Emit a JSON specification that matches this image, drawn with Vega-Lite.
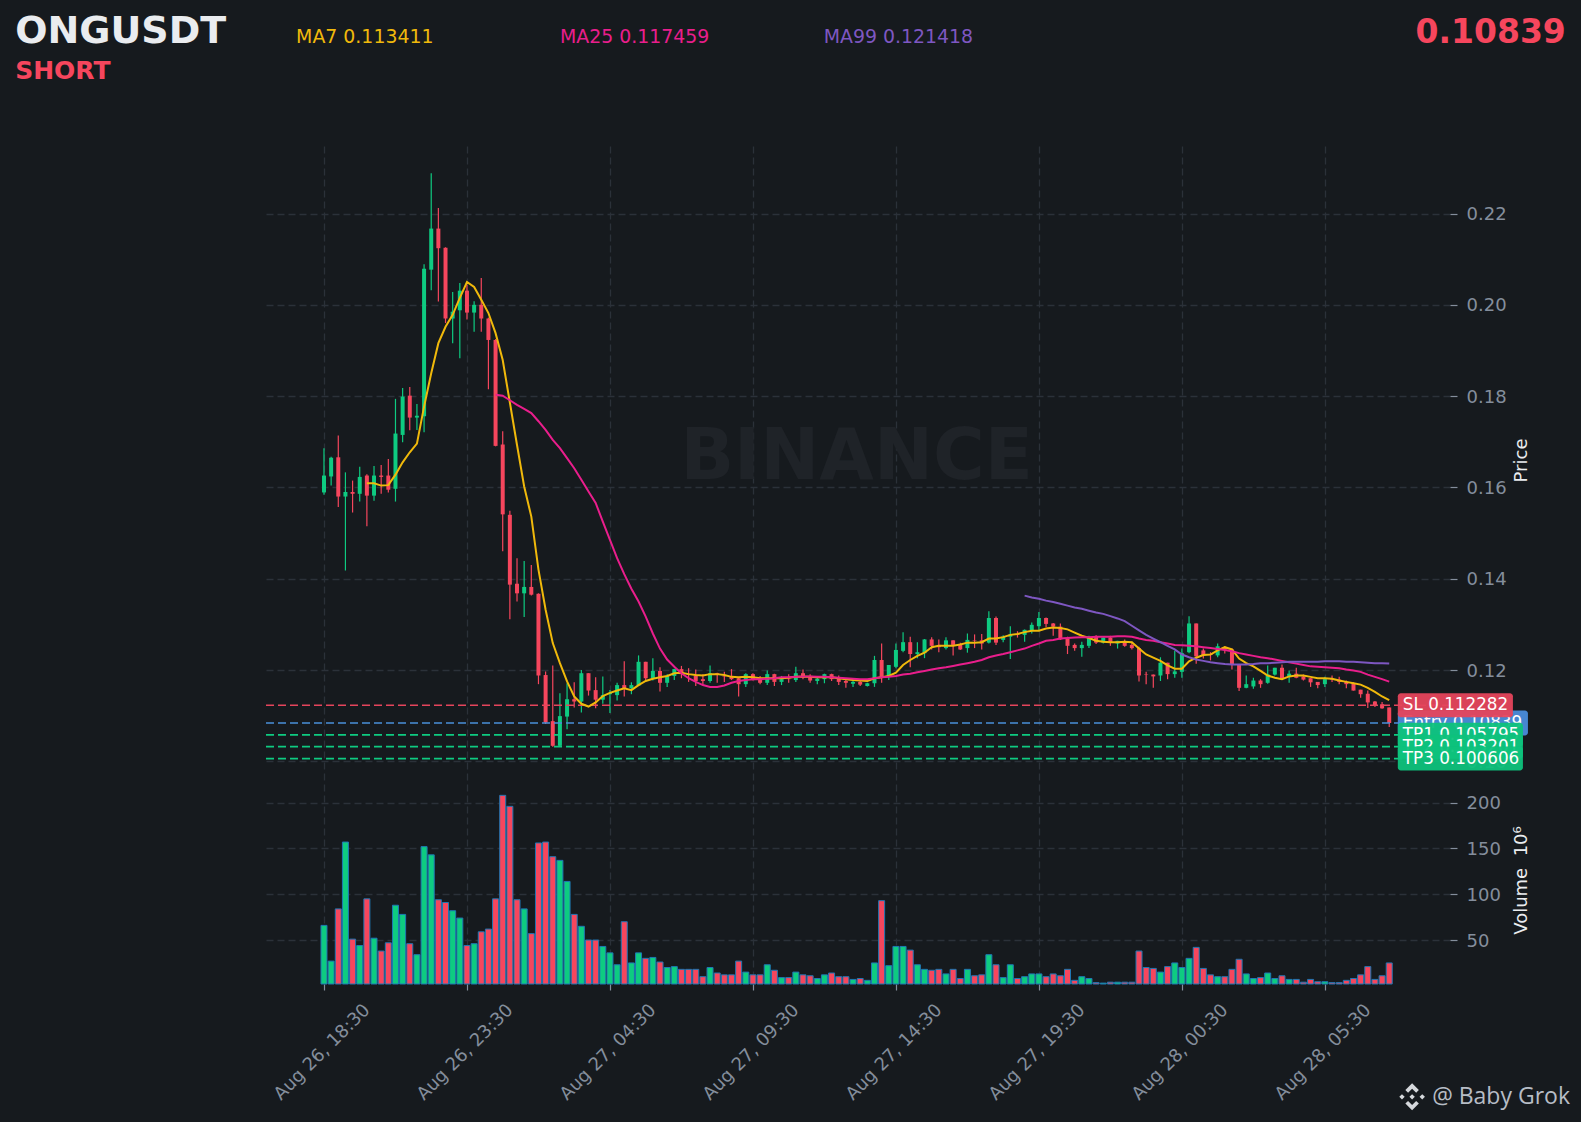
{
  "$schema": "https://vega.github.io/schema/vega-lite/v6.json",
  "description": "ONGUSDT 15 minute candles with moving averages, trade levels and volume",
  "background": "#161a1e",
  "width": 1186,
  "height": 838,
  "padding": {"left": 264, "top": 146, "right": 131, "bottom": 138},
  "autosize": {"type": "none"},
  "config": {
    "view": {"stroke": null},
    "font": "DejaVu Sans",
    "text": {"font": "DejaVu Sans"}
  },
  "datasets": {
    "candles": [
      {"i":0,"o":0.1589,"h":0.1686,"l":0.1584,"c":0.1626,"v":66},
      {"i":1,"o":0.1624,"h":0.1667,"l":0.1604,"c":0.1665,"v":27},
      {"i":2,"o":0.1666,"h":0.1714,"l":0.1557,"c":0.1580,"v":84},
      {"i":3,"o":0.1580,"h":0.1633,"l":0.1418,"c":0.1590,"v":157},
      {"i":4,"o":0.1590,"h":0.1615,"l":0.1545,"c":0.1586,"v":51},
      {"i":5,"o":0.1586,"h":0.1645,"l":0.1569,"c":0.1623,"v":44},
      {"i":6,"o":0.1626,"h":0.1629,"l":0.1515,"c":0.1582,"v":95,"ma7":0.1609},
      {"i":7,"o":0.1582,"h":0.1647,"l":0.1571,"c":0.1626,"v":52,"ma7":0.1609},
      {"i":8,"o":0.1626,"h":0.1649,"l":0.1586,"c":0.1623,"v":38,"ma7":0.1604},
      {"i":9,"o":0.1626,"h":0.1662,"l":0.1589,"c":0.1595,"v":47,"ma7":0.1605},
      {"i":10,"o":0.1597,"h":0.1794,"l":0.1569,"c":0.1718,"v":88,"ma7":0.1628},
      {"i":11,"o":0.1715,"h":0.1818,"l":0.1699,"c":0.1799,"v":78,"ma7":0.1655},
      {"i":12,"o":0.1801,"h":0.1820,"l":0.1725,"c":0.1753,"v":46,"ma7":0.1677},
      {"i":13,"o":0.1753,"h":0.1783,"l":0.1726,"c":0.1757,"v":34,"ma7":0.1696},
      {"i":14,"o":0.1756,"h":0.2089,"l":0.1721,"c":0.2079,"v":152,"ma7":0.1777},
      {"i":15,"o":0.2077,"h":0.2288,"l":0.2032,"c":0.2167,"v":143,"ma7":0.1850},
      {"i":16,"o":0.2167,"h":0.2212,"l":0.2007,"c":0.2124,"v":94,"ma7":0.1916},
      {"i":17,"o":0.2125,"h":0.2126,"l":0.1960,"c":0.1970,"v":91,"ma7":0.1952},
      {"i":18,"o":0.1970,"h":0.2028,"l":0.1916,"c":0.1985,"v":82,"ma7":0.1978},
      {"i":19,"o":0.1988,"h":0.2048,"l":0.1883,"c":0.2031,"v":74,"ma7":0.2015},
      {"i":20,"o":0.2031,"h":0.2044,"l":0.1968,"c":0.1983,"v":44,"ma7":0.2050},
      {"i":21,"o":0.1983,"h":0.2008,"l":0.1941,"c":0.2000,"v":46,"ma7":0.2039},
      {"i":22,"o":0.2000,"h":0.2059,"l":0.1941,"c":0.1970,"v":59,"ma7":0.2011},
      {"i":23,"o":0.1970,"h":0.1972,"l":0.1815,"c":0.1923,"v":62,"ma7":0.1982},
      {"i":24,"o":0.1923,"h":0.1925,"l":0.1690,"c":0.1691,"v":95,"ma7":0.1938,"ma25":0.1803},
      {"i":25,"o":0.1694,"h":0.1723,"l":0.1460,"c":0.1541,"v":208,"ma7":0.1879,"ma25":0.1801},
      {"i":26,"o":0.1540,"h":0.1549,"l":0.1311,"c":0.1387,"v":196,"ma7":0.1786,"ma25":0.1791},
      {"i":27,"o":0.1389,"h":0.1445,"l":0.1350,"c":0.1368,"v":94,"ma7":0.1693,"ma25":0.1781},
      {"i":28,"o":0.1368,"h":0.1439,"l":0.1316,"c":0.1382,"v":84,"ma7":0.1602,"ma25":0.1772},
      {"i":29,"o":0.1382,"h":0.1430,"l":0.1363,"c":0.1365,"v":57,"ma7":0.1536,"ma25":0.1763},
      {"i":30,"o":0.1367,"h":0.1368,"l":0.1169,"c":0.1188,"v":156,"ma7":0.1420,"ma25":0.1745},
      {"i":31,"o":0.1189,"h":0.1197,"l":0.1082,"c":0.1085,"v":157,"ma7":0.1332,"ma25":0.1726},
      {"i":32,"o":0.1088,"h":0.1210,"l":0.1032,"c":0.1034,"v":141,"ma7":0.1259,"ma25":0.1704},
      {"i":33,"o":0.1034,"h":0.1149,"l":0.1032,"c":0.1099,"v":137,"ma7":0.1215,"ma25":0.1686},
      {"i":34,"o":0.1098,"h":0.1171,"l":0.1070,"c":0.1136,"v":114,"ma7":0.1175,"ma25":0.1664},
      {"i":35,"o":0.1136,"h":0.1173,"l":0.1118,"c":0.1131,"v":78,"ma7":0.1142,"ma25":0.1642},
      {"i":36,"o":0.1131,"h":0.1200,"l":0.1107,"c":0.1193,"v":65,"ma7":0.1126,"ma25":0.1617},
      {"i":37,"o":0.1193,"h":0.1193,"l":0.1144,"c":0.1155,"v":50,"ma7":0.1120,"ma25":0.1591},
      {"i":38,"o":0.1156,"h":0.1184,"l":0.1116,"c":0.1135,"v":50,"ma7":0.1129,"ma25":0.1566},
      {"i":39,"o":0.1135,"h":0.1186,"l":0.1126,"c":0.1145,"v":43,"ma7":0.1143,"ma25":0.1525},
      {"i":40,"o":0.1147,"h":0.1156,"l":0.1106,"c":0.1150,"v":36,"ma7":0.1150,"ma25":0.1485},
      {"i":41,"o":0.1145,"h":0.1172,"l":0.1133,"c":0.1167,"v":23,"ma7":0.1155,"ma25":0.1445},
      {"i":42,"o":0.1167,"h":0.1219,"l":0.1142,"c":0.1160,"v":70,"ma7":0.1160,"ma25":0.1410},
      {"i":43,"o":0.1160,"h":0.1173,"l":0.1147,"c":0.1167,"v":25,"ma7":0.1156,"ma25":0.1378},
      {"i":44,"o":0.1166,"h":0.1232,"l":0.1165,"c":0.1218,"v":36,"ma7":0.1167,"ma25":0.1350},
      {"i":45,"o":0.1218,"h":0.1218,"l":0.1178,"c":0.1182,"v":30,"ma7":0.1176,"ma25":0.1317},
      {"i":46,"o":0.1182,"h":0.1226,"l":0.1177,"c":0.1198,"v":31,"ma7":0.1181,"ma25":0.1280},
      {"i":47,"o":0.1198,"h":0.1206,"l":0.1153,"c":0.1172,"v":26,"ma7":0.1184,"ma25":0.1247},
      {"i":48,"o":0.1172,"h":0.1191,"l":0.1163,"c":0.1187,"v":20,"ma7":0.1187,"ma25":0.1223},
      {"i":49,"o":0.1187,"h":0.1203,"l":0.1178,"c":0.1202,"v":21,"ma7":0.1193,"ma25":0.1207},
      {"i":50,"o":0.1202,"h":0.1209,"l":0.1182,"c":0.1191,"v":18,"ma7":0.1194,"ma25":0.1193},
      {"i":51,"o":0.1191,"h":0.1204,"l":0.1174,"c":0.1189,"v":18,"ma7":0.1191,"ma25":0.1182},
      {"i":52,"o":0.1188,"h":0.1201,"l":0.1165,"c":0.1176,"v":18,"ma7":0.1189,"ma25":0.1174},
      {"i":53,"o":0.1180,"h":0.1191,"l":0.1169,"c":0.1176,"v":10,"ma7":0.1188,"ma25":0.1167},
      {"i":54,"o":0.1176,"h":0.1210,"l":0.1172,"c":0.1193,"v":20,"ma7":0.1191,"ma25":0.1163},
      {"i":55,"o":0.1193,"h":0.1194,"l":0.1172,"c":0.1190,"v":14,"ma7":0.1191,"ma25":0.1163},
      {"i":56,"o":0.1187,"h":0.1196,"l":0.1174,"c":0.1186,"v":12,"ma7":0.1189,"ma25":0.1166},
      {"i":57,"o":0.1187,"h":0.1202,"l":0.1178,"c":0.1180,"v":12,"ma7":0.1185,"ma25":0.1172},
      {"i":58,"o":0.1182,"h":0.1184,"l":0.1142,"c":0.1169,"v":27,"ma7":0.1184,"ma25":0.1176},
      {"i":59,"o":0.1169,"h":0.1193,"l":0.1163,"c":0.1191,"v":15,"ma7":0.1185,"ma25":0.1178},
      {"i":60,"o":0.1191,"h":0.1193,"l":0.1177,"c":0.1178,"v":12,"ma7":0.1184,"ma25":0.1180},
      {"i":61,"o":0.1180,"h":0.1187,"l":0.1169,"c":0.1172,"v":12,"ma7":0.1182,"ma25":0.1180},
      {"i":62,"o":0.1172,"h":0.1199,"l":0.1167,"c":0.1191,"v":23,"ma7":0.1182,"ma25":0.1181},
      {"i":63,"o":0.1191,"h":0.1192,"l":0.1165,"c":0.1174,"v":17,"ma7":0.1182,"ma25":0.1182},
      {"i":64,"o":0.1174,"h":0.1187,"l":0.1167,"c":0.1180,"v":9,"ma7":0.1182,"ma25":0.1184},
      {"i":65,"o":0.1181,"h":0.1191,"l":0.1172,"c":0.1180,"v":9,"ma7":0.1183,"ma25":0.1184},
      {"i":66,"o":0.1178,"h":0.1207,"l":0.1174,"c":0.1193,"v":15,"ma7":0.1185,"ma25":0.1185},
      {"i":67,"o":0.1193,"h":0.1201,"l":0.1180,"c":0.1184,"v":12,"ma7":0.1185,"ma25":0.1186},
      {"i":68,"o":0.1184,"h":0.1191,"l":0.1172,"c":0.1177,"v":11,"ma7":0.1185,"ma25":0.1186},
      {"i":69,"o":0.1176,"h":0.1187,"l":0.1169,"c":0.1181,"v":8,"ma7":0.1184,"ma25":0.1185},
      {"i":70,"o":0.1180,"h":0.1192,"l":0.1171,"c":0.1191,"v":12,"ma7":0.1184,"ma25":0.1185},
      {"i":71,"o":0.1191,"h":0.1192,"l":0.1176,"c":0.1180,"v":14,"ma7":0.1184,"ma25":0.1184},
      {"i":72,"o":0.1182,"h":0.1188,"l":0.1167,"c":0.1174,"v":10,"ma7":0.1182,"ma25":0.1183},
      {"i":73,"o":0.1176,"h":0.1178,"l":0.1161,"c":0.1172,"v":10,"ma7":0.1180,"ma25":0.1182},
      {"i":74,"o":0.1170,"h":0.1180,"l":0.1163,"c":0.1174,"v":7,"ma7":0.1178,"ma25":0.1181},
      {"i":75,"o":0.1174,"h":0.1177,"l":0.1165,"c":0.1168,"v":8,"ma7":0.1177,"ma25":0.1180},
      {"i":76,"o":0.1165,"h":0.1172,"l":0.1164,"c":0.1171,"v":6,"ma7":0.1176,"ma25":0.1180},
      {"i":77,"o":0.1171,"h":0.1231,"l":0.1163,"c":0.1222,"v":25,"ma7":0.1182,"ma25":0.1182},
      {"i":78,"o":0.1222,"h":0.1258,"l":0.1172,"c":0.1184,"v":93,"ma7":0.1184,"ma25":0.1184},
      {"i":79,"o":0.1187,"h":0.1211,"l":0.1178,"c":0.1211,"v":22,"ma7":0.1187,"ma25":0.1185},
      {"i":80,"o":0.1207,"h":0.1258,"l":0.1204,"c":0.1244,"v":43,"ma7":0.1194,"ma25":0.1187},
      {"i":81,"o":0.1242,"h":0.1283,"l":0.1239,"c":0.1261,"v":43,"ma7":0.1211,"ma25":0.1190},
      {"i":82,"o":0.1261,"h":0.1273,"l":0.1206,"c":0.1235,"v":39,"ma7":0.1222,"ma25":0.1192},
      {"i":83,"o":0.1235,"h":0.1261,"l":0.1226,"c":0.1239,"v":23,"ma7":0.1231,"ma25":0.1195},
      {"i":84,"o":0.1237,"h":0.1268,"l":0.1226,"c":0.1267,"v":18,"ma7":0.1238,"ma25":0.1198},
      {"i":85,"o":0.1267,"h":0.1272,"l":0.1245,"c":0.1253,"v":17,"ma7":0.1250,"ma25":0.1201},
      {"i":86,"o":0.1255,"h":0.1267,"l":0.1239,"c":0.1250,"v":18,"ma7":0.1253,"ma25":0.1204},
      {"i":87,"o":0.1248,"h":0.1272,"l":0.1245,"c":0.1265,"v":13,"ma7":0.1253,"ma25":0.1206},
      {"i":88,"o":0.1265,"h":0.1265,"l":0.1232,"c":0.1255,"v":18,"ma7":0.1253,"ma25":0.1209},
      {"i":89,"o":0.1255,"h":0.1260,"l":0.1244,"c":0.1245,"v":8,"ma7":0.1256,"ma25":0.1212},
      {"i":90,"o":0.1248,"h":0.1280,"l":0.1238,"c":0.1266,"v":18,"ma7":0.1260,"ma25":0.1215},
      {"i":91,"o":0.1265,"h":0.1278,"l":0.1248,"c":0.1264,"v":11,"ma7":0.1260,"ma25":0.1218},
      {"i":92,"o":0.1265,"h":0.1279,"l":0.1245,"c":0.1258,"v":12,"ma7":0.1261,"ma25":0.1222},
      {"i":93,"o":0.1260,"h":0.1329,"l":0.1258,"c":0.1314,"v":34,"ma7":0.1269,"ma25":0.1228},
      {"i":94,"o":0.1314,"h":0.1317,"l":0.1255,"c":0.1260,"v":23,"ma7":0.1269,"ma25":0.1232},
      {"i":95,"o":0.1266,"h":0.1276,"l":0.1261,"c":0.1273,"v":9,"ma7":0.1272,"ma25":0.1235},
      {"i":96,"o":0.1273,"h":0.1296,"l":0.1224,"c":0.1278,"v":23,"ma7":0.1277,"ma25":0.1239},
      {"i":97,"o":0.1279,"h":0.1285,"l":0.1271,"c":0.1277,"v":8,"ma7":0.1279,"ma25":0.1243},
      {"i":98,"o":0.1277,"h":0.1289,"l":0.1262,"c":0.1288,"v":10,"ma7":0.1283,"ma25":0.1247,"ma99":0.1363},
      {"i":99,"o":0.1287,"h":0.1304,"l":0.1280,"c":0.1299,"v":13,"ma7":0.1286,"ma25":0.1253,"ma99":0.1359},
      {"i":100,"o":0.1296,"h":0.1327,"l":0.1286,"c":0.1314,"v":13,"ma7":0.1286,"ma25":0.1258,"ma99":0.1356},
      {"i":101,"o":0.1314,"h":0.1315,"l":0.1294,"c":0.1301,"v":10,"ma7":0.1291,"ma25":0.1264,"ma99":0.1352},
      {"i":102,"o":0.1302,"h":0.1303,"l":0.1275,"c":0.1295,"v":13,"ma7":0.1293,"ma25":0.1266,"ma99":0.1349},
      {"i":103,"o":0.1295,"h":0.1302,"l":0.1266,"c":0.1267,"v":11,"ma7":0.1292,"ma25":0.1269,"ma99":0.1345},
      {"i":104,"o":0.1269,"h":0.1273,"l":0.1235,"c":0.1253,"v":18,"ma7":0.1289,"ma25":0.1270,"ma99":0.1341},
      {"i":105,"o":0.1255,"h":0.1258,"l":0.1242,"c":0.1248,"v":6,"ma7":0.1282,"ma25":0.1271,"ma99":0.1337},
      {"i":106,"o":0.1248,"h":0.1262,"l":0.1229,"c":0.1255,"v":10,"ma7":0.1275,"ma25":0.1272,"ma99":0.1334},
      {"i":107,"o":0.1253,"h":0.1275,"l":0.1248,"c":0.1273,"v":8,"ma7":0.1270,"ma25":0.1272,"ma99":0.1330},
      {"i":108,"o":0.1273,"h":0.1276,"l":0.1257,"c":0.1260,"v":3.5,"ma7":0.1264,"ma25":0.1273,"ma99":0.1326},
      {"i":109,"o":0.1260,"h":0.1271,"l":0.1258,"c":0.1271,"v":3,"ma7":0.1262,"ma25":0.1273,"ma99":0.1323},
      {"i":110,"o":0.1271,"h":0.1275,"l":0.1253,"c":0.1260,"v":4,"ma7":0.1261,"ma25":0.1273,"ma99":0.1318},
      {"i":111,"o":0.1258,"h":0.1264,"l":0.1247,"c":0.1264,"v":4,"ma7":0.1261,"ma25":0.1274,"ma99":0.1313},
      {"i":112,"o":0.1262,"h":0.1267,"l":0.1251,"c":0.1253,"v":4,"ma7":0.1262,"ma25":0.1274,"ma99":0.1307},
      {"i":113,"o":0.1255,"h":0.1262,"l":0.1245,"c":0.1248,"v":4,"ma7":0.1261,"ma25":0.1273,"ma99":0.1297},
      {"i":114,"o":0.1248,"h":0.1251,"l":0.1175,"c":0.1188,"v":38,"ma7":0.1247,"ma25":0.1269,"ma99":0.1287},
      {"i":115,"o":0.1191,"h":0.1196,"l":0.1169,"c":0.1190,"v":20,"ma7":0.1234,"ma25":0.1266,"ma99":0.1277},
      {"i":116,"o":0.1190,"h":0.1190,"l":0.1161,"c":0.1186,"v":19,"ma7":0.1227,"ma25":0.1264,"ma99":0.1269},
      {"i":117,"o":0.1188,"h":0.1228,"l":0.1176,"c":0.1216,"v":15,"ma7":0.1220,"ma25":0.1261,"ma99":0.1261},
      {"i":118,"o":0.1216,"h":0.1216,"l":0.1180,"c":0.1191,"v":21,"ma7":0.1210,"ma25":0.1258,"ma99":0.1253},
      {"i":119,"o":0.1191,"h":0.1242,"l":0.1183,"c":0.1197,"v":25,"ma7":0.1203,"ma25":0.1255,"ma99":0.1245},
      {"i":120,"o":0.1196,"h":0.1247,"l":0.1183,"c":0.1237,"v":20,"ma7":0.1203,"ma25":0.1254,"ma99":0.1234},
      {"i":121,"o":0.1239,"h":0.1318,"l":0.1237,"c":0.1302,"v":30,"ma7":0.1219,"ma25":0.1253,"ma99":0.1228},
      {"i":122,"o":0.1302,"h":0.1302,"l":0.1214,"c":0.1230,"v":42,"ma7":0.1227,"ma25":0.1252,"ma99":0.1223},
      {"i":123,"o":0.1243,"h":0.1247,"l":0.1225,"c":0.1232,"v":19,"ma7":0.1233,"ma25":0.1250,"ma99":0.1220},
      {"i":124,"o":0.1235,"h":0.1239,"l":0.1221,"c":0.1233,"v":12,"ma7":0.1234,"ma25":0.1248,"ma99":0.1217},
      {"i":125,"o":0.1232,"h":0.1258,"l":0.1228,"c":0.1252,"v":10,"ma7":0.1243,"ma25":0.1246,"ma99":0.1215},
      {"i":126,"o":0.1250,"h":0.1252,"l":0.1236,"c":0.1245,"v":10,"ma7":0.1250,"ma25":0.1244,"ma99":0.1213},
      {"i":127,"o":0.1245,"h":0.1247,"l":0.1201,"c":0.1212,"v":18,"ma7":0.1245,"ma25":0.1241,"ma99":0.1212},
      {"i":128,"o":0.1211,"h":0.1211,"l":0.1154,"c":0.1161,"v":29,"ma7":0.1225,"ma25":0.1237,"ma99":0.1212},
      {"i":129,"o":0.1161,"h":0.1188,"l":0.1160,"c":0.1169,"v":13,"ma7":0.1215,"ma25":0.1234,"ma99":0.1212},
      {"i":130,"o":0.1164,"h":0.1183,"l":0.1159,"c":0.1177,"v":8,"ma7":0.1208,"ma25":0.1231,"ma99":0.1213},
      {"i":131,"o":0.1177,"h":0.1180,"l":0.1161,"c":0.1169,"v":9,"ma7":0.1198,"ma25":0.1228,"ma99":0.1215},
      {"i":132,"o":0.1172,"h":0.1210,"l":0.1170,"c":0.1190,"v":14,"ma7":0.1188,"ma25":0.1226,"ma99":0.1215},
      {"i":133,"o":0.1190,"h":0.1205,"l":0.1188,"c":0.1205,"v":8,"ma7":0.1183,"ma25":0.1223,"ma99":0.1216},
      {"i":134,"o":0.1205,"h":0.1212,"l":0.1180,"c":0.1182,"v":11,"ma7":0.1180,"ma25":0.1220,"ma99":0.1217},
      {"i":135,"o":0.1185,"h":0.1199,"l":0.1172,"c":0.1192,"v":7,"ma7":0.1186,"ma25":0.1217,"ma99":0.1218},
      {"i":136,"o":0.1192,"h":0.1205,"l":0.1182,"c":0.1183,"v":7,"ma7":0.1188,"ma25":0.1214,"ma99":0.1218},
      {"i":137,"o":0.1186,"h":0.1190,"l":0.1177,"c":0.1179,"v":4,"ma7":0.1188,"ma25":0.1211,"ma99":0.1218},
      {"i":138,"o":0.1182,"h":0.1182,"l":0.1163,"c":0.1173,"v":7,"ma7":0.1185,"ma25":0.1208,"ma99":0.1218},
      {"i":139,"o":0.1174,"h":0.1174,"l":0.1160,"c":0.1167,"v":4.5,"ma7":0.1182,"ma25":0.1207,"ma99":0.1218},
      {"i":140,"o":0.1169,"h":0.1185,"l":0.1163,"c":0.1180,"v":4.5,"ma7":0.1182,"ma25":0.1206,"ma99":0.1219},
      {"i":141,"o":0.1180,"h":0.1188,"l":0.1174,"c":0.1179,"v":3.5,"ma7":0.1181,"ma25":0.1205,"ma99":0.1219},
      {"i":142,"o":0.1179,"h":0.1185,"l":0.1169,"c":0.1174,"v":3.5,"ma7":0.1177,"ma25":0.1204,"ma99":0.1219},
      {"i":143,"o":0.1174,"h":0.1177,"l":0.1160,"c":0.1169,"v":6,"ma7":0.1174,"ma25":0.1201,"ma99":0.1218},
      {"i":144,"o":0.1171,"h":0.1173,"l":0.1155,"c":0.1155,"v":8,"ma7":0.1171,"ma25":0.1199,"ma99":0.1218},
      {"i":145,"o":0.1157,"h":0.1157,"l":0.1139,"c":0.1147,"v":12,"ma7":0.1168,"ma25":0.1196,"ma99":0.1217},
      {"i":146,"o":0.1148,"h":0.1155,"l":0.1117,"c":0.1129,"v":21,"ma7":0.1161,"ma25":0.1190,"ma99":0.1216},
      {"i":147,"o":0.1131,"h":0.1132,"l":0.1119,"c":0.1123,"v":7,"ma7":0.1152,"ma25":0.1185,"ma99":0.1215},
      {"i":148,"o":0.1125,"h":0.1130,"l":0.1115,"c":0.1116,"v":11,"ma7":0.1142,"ma25":0.1180,"ma99":0.1215},
      {"i":149,"o":0.1118,"h":0.1118,"l":0.1075,"c":0.10839,"v":25,"ma7":0.113411,"ma25":0.117459,"ma99":0.121418}
    ],
    "levels": [
      {"name":"Entry","price":0.10839,"label":"Entry 0.10839"},
      {"name":"SL","price":0.112282,"label":"SL 0.112282"},
      {"name":"TP1","price":0.105795,"label":"TP1 0.105795"},
      {"name":"TP2","price":0.103201,"label":"TP2 0.103201"},
      {"name":"TP3","price":0.100606,"label":"TP3 0.100606"}
    ],
    "note": [{"label":"note"}]
  },
  "data": {"name": "candles"},
  "layer": [
    {
      "layer": [
        {
          "data": {"name": "note"},
          "mark": {"type": "text", "text": "BINANCE", "font": "DejaVu Sans", "fontWeight": "bold", "fontSize": 70.5, "color": "#1f2328", "align": "center", "baseline": "middle"},
          "encoding": {
            "x": {"datum": 74.5, "type": "quantitative", "title": null},
            "y": {"datum": 0.1665, "type": "quantitative", "title": "Price"}
          }
        },
        {
          "mark": {"type": "rule", "strokeWidth": 1.2},
          "encoding": {
            "x": {
              "field": "i",
              "type": "quantitative",
              "title": null,
              "scale": {"domain": [-8.39, 157.5], "nice": false, "zero": false, "padding": 0},
              "axis": {
                "values": [0, 20, 40, 60, 80, 100, 120, 140],
                "labelExpr": "['Aug 26, 18:30','Aug 26, 23:30','Aug 27, 04:30','Aug 27, 09:30','Aug 27, 14:30','Aug 27, 19:30','Aug 28, 00:30','Aug 28, 05:30'][datum.value / 20]",
                "labelAngle": -45,
                "labelAlign": "center",
                "labelBaseline": "middle",
                "labelPadding": 62,
                "labelOffset": -2,
                "labelFontSize": 18,
                "labelColor": "#848e9c",
                "labelOverlap": false,
                "labelFlush": false,
                "labelBound": false,
                "domain": false,
                "tickColor": "#848e9c",
                "tickSize": 6,
                "tickWidth": 1.2,
                "grid": true,
                "gridColor": "#2b3139",
                "gridDash": [7, 4],
                "gridWidth": 1.3
              }
            },
            "y": {
              "field": "h",
              "type": "quantitative",
              "title": "Price",
              "scale": {"domain": [0.05122, 0.23479], "nice": false, "zero": false, "padding": 0},
              "axis": {
                "orient": "right",
                "values": [0.10, 0.12, 0.14, 0.16, 0.18, 0.20, 0.22],
                "format": ".2f",
                "labelFontSize": 18,
                "labelColor": "#848e9c",
                "labelPadding": 9,
                "labelOffset": 1,
                "domain": false,
                "tickColor": "#848e9c",
                "tickSize": 7,
                "tickWidth": 1.2,
                "grid": true,
                "gridColor": "#2b3139",
                "gridDash": [7, 4],
                "gridWidth": 1.3,
                "titleColor": "#eaecef",
                "titleFontSize": 18,
                "titleFontWeight": "normal",
                "titleX": 71,
                "titleY": 314,
                "titleAngle": -90,
                "titleAlign": "center",
                "titleBaseline": "middle"
              }
            },
            "y2": {"field": "l"},
            "color": {"condition": {"test": "datum.c >= datum.o", "value": "#0ecb81"}, "value": "#f6465d"}
          }
        },
        {
          "mark": {"type": "bar", "width": 4, "orient": "vertical"},
          "encoding": {
            "x": {"field": "i", "type": "quantitative", "title": null},
            "y": {"field": "o", "type": "quantitative", "title": "Price"},
            "y2": {"field": "c"},
            "color": {"condition": {"test": "datum.c >= datum.o", "value": "#0ecb81"}, "value": "#f6465d"}
          }
        },
        {
          "data": {"name": "levels"},
          "mark": {"type": "rule", "strokeWidth": 1.7, "strokeDash": [8, 4]},
          "encoding": {
            "y": {"field": "price", "type": "quantitative", "title": "Price"},
            "color": {
              "field": "name",
              "type": "nominal",
              "legend": null,
              "scale": {"domain": ["SL", "Entry", "TP1", "TP2", "TP3"], "range": ["#e5455c", "#4a90d9", "#0ecb81", "#0ecb81", "#0ecb81"]}
            }
          }
        },
        {
          "mark": {"type": "line", "color": "#f0b90b", "strokeWidth": 2},
          "encoding": {"x": {"field": "i", "type": "quantitative", "title": null}, "y": {"field": "ma7", "type": "quantitative", "title": "Price"}}
        },
        {
          "mark": {"type": "line", "color": "#e91e8c", "strokeWidth": 2},
          "encoding": {"x": {"field": "i", "type": "quantitative", "title": null}, "y": {"field": "ma25", "type": "quantitative", "title": "Price"}}
        },
        {
          "mark": {"type": "line", "color": "#7e57c2", "strokeWidth": 2},
          "encoding": {"x": {"field": "i", "type": "quantitative", "title": null}, "y": {"field": "ma99", "type": "quantitative", "title": "Price"}}
        },
        {
          "data": {"name": "levels"},
          "transform": [{"filter": "datum.name === 'Entry'"}],
          "layer": [
            {
              "mark": {"type": "rect", "height": 25, "color": "#4a8cdb", "opacity": 0.95, "cornerRadius": 3},
              "encoding": {"x": {"datum": 150.2, "type": "quantitative", "title": null}, "x2": {"datum": 168.4}, "y": {"field": "price", "type": "quantitative", "title": "Price"}}
            },
            {
              "mark": {"type": "text", "fontSize": 16.8, "color": "#ffffff", "align": "left", "baseline": "middle"},
              "encoding": {"x": {"datum": 150.9, "type": "quantitative", "title": null}, "y": {"field": "price", "type": "quantitative", "title": "Price"}, "text": {"field": "label"}}
            }
          ]
        },
        {
          "data": {"name": "levels"},
          "transform": [{"filter": "datum.name === 'SL'"}],
          "layer": [
            {
              "mark": {"type": "rect", "height": 24, "color": "#e5455c", "opacity": 0.95, "cornerRadius": 3},
              "encoding": {"x": {"datum": 150.2, "type": "quantitative", "title": null}, "x2": {"datum": 166.3}, "y": {"field": "price", "type": "quantitative", "title": "Price"}}
            },
            {
              "mark": {"type": "text", "fontSize": 16.8, "color": "#ffffff", "align": "left", "baseline": "middle"},
              "encoding": {"x": {"datum": 150.9, "type": "quantitative", "title": null}, "y": {"field": "price", "type": "quantitative", "title": "Price"}, "text": {"field": "label"}}
            }
          ]
        },
        {
          "data": {"name": "levels"},
          "transform": [{"filter": "datum.name === 'TP1'"}],
          "layer": [
            {
              "mark": {"type": "rect", "height": 24, "color": "#0ec27c", "opacity": 0.95, "cornerRadius": 3},
              "encoding": {"x": {"datum": 150.2, "type": "quantitative", "title": null}, "x2": {"datum": 167.7}, "y": {"field": "price", "type": "quantitative", "title": "Price"}}
            },
            {
              "mark": {"type": "text", "fontSize": 16.8, "color": "#ffffff", "align": "left", "baseline": "middle"},
              "encoding": {"x": {"datum": 150.9, "type": "quantitative", "title": null}, "y": {"field": "price", "type": "quantitative", "title": "Price"}, "text": {"field": "label"}}
            }
          ]
        },
        {
          "data": {"name": "levels"},
          "transform": [{"filter": "datum.name === 'TP2'"}],
          "layer": [
            {
              "mark": {"type": "rect", "height": 24, "color": "#0ec27c", "opacity": 0.95, "cornerRadius": 3},
              "encoding": {"x": {"datum": 150.2, "type": "quantitative", "title": null}, "x2": {"datum": 167.7}, "y": {"field": "price", "type": "quantitative", "title": "Price"}}
            },
            {
              "mark": {"type": "text", "fontSize": 16.8, "color": "#ffffff", "align": "left", "baseline": "middle"},
              "encoding": {"x": {"datum": 150.9, "type": "quantitative", "title": null}, "y": {"field": "price", "type": "quantitative", "title": "Price"}, "text": {"field": "label"}}
            }
          ]
        },
        {
          "data": {"name": "levels"},
          "transform": [{"filter": "datum.name === 'TP3'"}],
          "layer": [
            {
              "mark": {"type": "rect", "height": 24, "color": "#0ec27c", "opacity": 0.95, "cornerRadius": 3},
              "encoding": {"x": {"datum": 150.2, "type": "quantitative", "title": null}, "x2": {"datum": 167.7}, "y": {"field": "price", "type": "quantitative", "title": "Price"}}
            },
            {
              "mark": {"type": "text", "fontSize": 16.8, "color": "#ffffff", "align": "left", "baseline": "middle"},
              "encoding": {"x": {"datum": 150.9, "type": "quantitative", "title": null}, "y": {"field": "price", "type": "quantitative", "title": "Price"}, "text": {"field": "label"}}
            }
          ]
        },
        {
          "data": {"name": "note"},
          "mark": {"type": "text", "text": "ONGUSDT", "fontWeight": "bold", "fontSize": 38, "color": "#eaecef", "align": "left", "baseline": "middle"},
          "encoding": {"x": {"datum": -43.2, "type": "quantitative", "title": null}, "y": {"datum": 0.2598, "type": "quantitative", "title": "Price"}}
        },
        {
          "data": {"name": "note"},
          "mark": {"type": "text", "text": "SHORT", "fontWeight": "bold", "fontSize": 25, "color": "#f6465d", "align": "left", "baseline": "middle"},
          "encoding": {"x": {"datum": -43.2, "type": "quantitative", "title": null}, "y": {"datum": 0.2512, "type": "quantitative", "title": "Price"}}
        },
        {
          "data": {"name": "note"},
          "mark": {"type": "text", "text": "MA7 0.113411", "fontSize": 18.9, "color": "#f0b90b", "align": "left", "baseline": "middle"},
          "encoding": {"x": {"datum": -3.9, "type": "quantitative", "title": null}, "y": {"datum": 0.2586, "type": "quantitative", "title": "Price"}}
        },
        {
          "data": {"name": "note"},
          "mark": {"type": "text", "text": "MA25 0.117459", "fontSize": 18.9, "color": "#e91e8c", "align": "left", "baseline": "middle"},
          "encoding": {"x": {"datum": 33, "type": "quantitative", "title": null}, "y": {"datum": 0.2586, "type": "quantitative", "title": "Price"}}
        },
        {
          "data": {"name": "note"},
          "mark": {"type": "text", "text": "MA99 0.121418", "fontSize": 18.9, "color": "#7e57c2", "align": "left", "baseline": "middle"},
          "encoding": {"x": {"datum": 69.9, "type": "quantitative", "title": null}, "y": {"datum": 0.2586, "type": "quantitative", "title": "Price"}}
        },
        {
          "data": {"name": "note"},
          "mark": {"type": "text", "text": "0.10839", "fontWeight": "bold", "fontSize": 33, "color": "#f6465d", "align": "right", "baseline": "middle"},
          "encoding": {"x": {"datum": 173.7, "type": "quantitative", "title": null}, "y": {"datum": 0.2595, "type": "quantitative", "title": "Price"}}
        },
        {
          "data": {"name": "note"},
          "mark": {"type": "text", "text": "@ Baby Grok", "font": "Open Sans", "fontSize": 23, "color": "#b7bdc6", "align": "left", "baseline": "middle"},
          "encoding": {"x": {"datum": 155, "type": "quantitative", "title": null}, "y": {"datum": 0.0265, "type": "quantitative", "title": "Price"}}
        },
        {
          "data": {"name": "note"},
          "mark": {
            "type": "point",
            "filled": true,
            "size": 729,
            "opacity": 1,
            "color": "#d5d8dc",
            "shape": "M0,-1L0.5,-0.5L0.3,-0.3L0,-0.6L-0.3,-0.3L-0.5,-0.5ZM0,1L0.5,0.5L0.3,0.3L0,0.6L-0.3,0.3L-0.5,0.5ZM0,-0.2L0.2,0L0,0.2L-0.2,0ZM-0.75,-0.2L-0.55,0L-0.75,0.2L-0.95,0ZM0.75,-0.2L0.95,0L0.75,0.2L0.55,0Z"
          },
          "encoding": {"x": {"datum": 152.2, "type": "quantitative", "title": null}, "y": {"datum": 0.0265, "type": "quantitative", "title": "Price"}}
        }
      ]
    },
    {
      "layer": [
        {
          "mark": {"type": "bar", "width": 6, "orient": "vertical", "stroke": "#1f77b4", "strokeWidth": 1},
          "encoding": {
            "x": {"field": "i", "type": "quantitative", "title": null},
            "y": {
              "field": "v",
              "type": "quantitative",
              "scale": {"domain": [2, 917], "nice": false, "zero": false, "padding": 0},
              "axis": {
                "title": "Volume\u00a0\u00a010⁶",
                "orient": "right",
                "values": [50, 100, 150, 200],
                "labelFontSize": 18,
                "labelColor": "#848e9c",
                "labelPadding": 9,
                "labelOffset": 1,
                "domain": false,
                "tickColor": "#848e9c",
                "tickSize": 7,
                "tickWidth": 1.2,
                "grid": true,
                "gridColor": "#2b3139",
                "gridDash": [7, 4],
                "gridWidth": 1.3,
                "titleColor": "#eaecef",
                "titleFontSize": 18,
                "titleFontWeight": "normal",
                "titleX": 71,
                "titleY": 734,
                "titleAngle": -90,
                "titleAlign": "center",
                "titleBaseline": "middle"
              }
            },
            "y2": {"datum": 2},
            "color": {"condition": {"test": "datum.c >= datum.o", "value": "#0ecb81"}, "value": "#f6465d"}
          }
        }
      ]
    }
  ],
  "resolve": {"scale": {"y": "independent"}, "axis": {"y": "independent"}}
}
